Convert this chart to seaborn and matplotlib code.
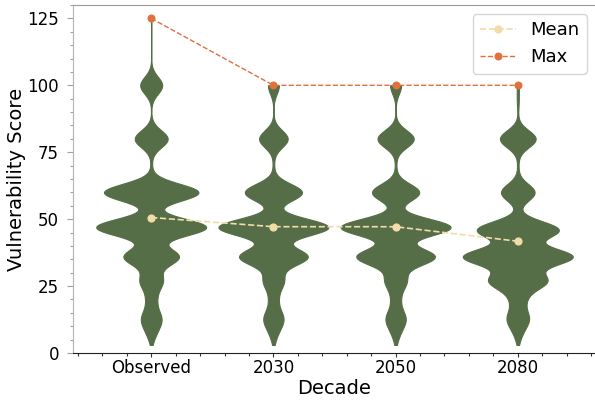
import numpy as np
import pandas as pd
import matplotlib
matplotlib.use("Agg")
import matplotlib.pyplot as plt
from matplotlib.ticker import AutoMinorLocator, MultipleLocator
import seaborn as sns

# Decades compared
decades = ["Observed", "2030", "2050", "2080"]

# Vulnerability score levels and how many cases fall on each level, per decade
score_levels = [3, 8, 13, 20, 27, 36, 46, 47, 60, 70, 80, 94, 100, 125]
counts_observed = [1, 14, 32, 16, 40, 100, 0, 200, 172, 2, 60, 0, 40, 1]
counts_2030 = [1, 12, 32, 14, 36, 124, 0, 200, 104, 2, 52, 0, 20, 0]
counts_2050 = [1, 12, 32, 14, 38, 142, 0, 200, 86, 2, 66, 0, 20, 0]
counts_2080 = [1, 12, 36, 24, 104, 200, 150, 0, 62, 2, 66, 3, 3, 0]

VIOLIN_GREEN = "#566e47"
MEAN_COLOR = "#f2dcaa"
MAX_COLOR = "#e0703c"
KDE_BANDWIDTH = 3.2  # kernel width in score units

counts_by_decade = [counts_observed, counts_2030, counts_2050, counts_2080]
df = pd.concat(
    [
        pd.DataFrame({"Decade": d, "Score": np.repeat(score_levels, c)})
        for d, c in zip(decades, counts_by_decade)
    ],
    ignore_index=True,
)


def fixed_bandwidth(kde):
    # same kernel width (in score units) for every decade
    return KDE_BANDWIDTH / kde.dataset.std(ddof=1)


fig = plt.figure(figsize=(5.95, 4.0), dpi=100)
ax = fig.add_axes([73 / 595, 47 / 400, 523 / 595, 348 / 400])

sns.violinplot(
    data=df, x="Decade", y="Score", order=decades,
    color=VIOLIN_GREEN, saturation=1, density_norm="width", width=0.9,
    cut=0, inner=None, bw_method=fixed_bandwidth, gridsize=400,
    linewidth=0.8, linecolor=VIOLIN_GREEN, ax=ax,
)

sns.pointplot(
    data=df, x="Decade", y="Score", order=decades,
    estimator="mean", errorbar=None, color=MEAN_COLOR,
    markers="o", linestyles="--", markersize=5, linewidth=1.2,
    label="Mean", ax=ax,
)
sns.pointplot(
    data=df, x="Decade", y="Score", order=decades,
    estimator="max", errorbar=None, color=MAX_COLOR,
    markers="o", linestyles="--", markersize=5, linewidth=1.0,
    label="Max", ax=ax,
)

ax.set_xlim(-0.64, 3.64)
ax.set_ylim(0, 130)
ax.yaxis.set_major_locator(MultipleLocator(25))
ax.yaxis.set_minor_locator(MultipleLocator(5))
ax.xaxis.set_minor_locator(AutoMinorLocator(5))

ax.set_xlabel("Decade", fontsize=14, labelpad=1)
ax.set_ylabel("Vulnerability Score", fontsize=14, labelpad=1)
ax.tick_params(axis="both", which="major", labelsize=12, width=0.8)
ax.tick_params(axis="y", which="major", length=4, pad=6)
ax.tick_params(axis="x", which="major", length=3, pad=1.5)
ax.tick_params(axis="both", which="minor", length=2.5, width=0.8)
ax.tick_params(axis="y", which="both", color="#a0a0a0")
ax.tick_params(axis="x", which="both", color="#333333")

ax.spines["left"].set_color("#b5b5b5")
ax.spines["top"].set_color("#9a9a9a")
ax.spines["right"].set_color("#9a9a9a")
ax.spines["bottom"].set_color("#222222")

ax.legend(loc="upper right", fontsize=13)

fig.savefig("out.png", dpi=100)
